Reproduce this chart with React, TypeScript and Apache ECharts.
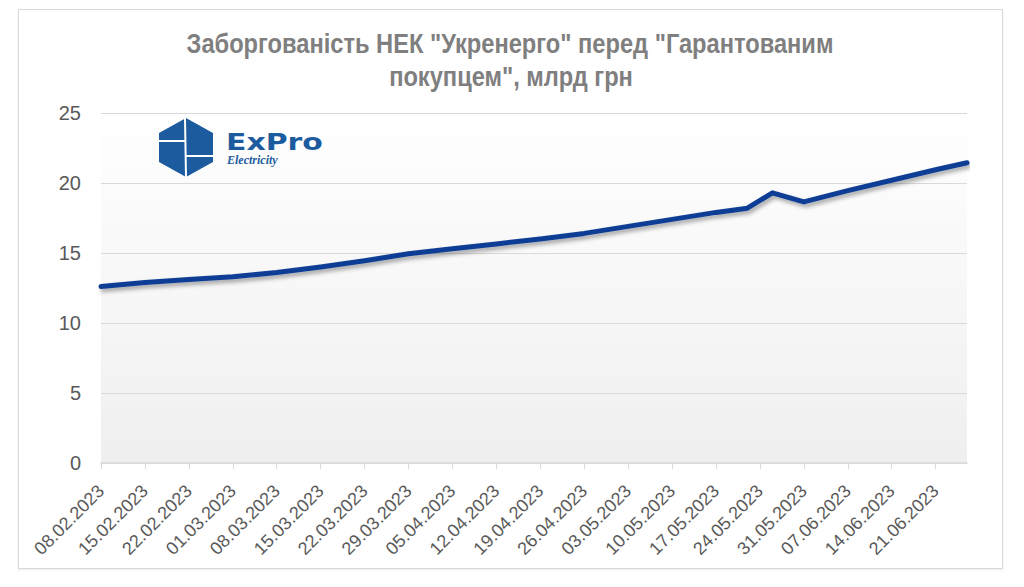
import React, { useEffect, useRef } from "react";
import * as echarts from "echarts";

const titleLines = [
  'Заборгованість НЕК "Укренерго" перед "Гарантованим',
  'покупцем", млрд грн',
];

// Daily category axis from 08.02.2023 to 26.06.2023
const firstDay = Date.UTC(2023, 1, 8);
const dayCount = 139;
const pad = (n: number) => (n < 10 ? "0" + n : "" + n);
const categories: string[] = Array.from({ length: dayCount }, (_, i) => {
  const d = new Date(firstDay + i * 86400000);
  return `${pad(d.getUTCDate())}.${pad(d.getUTCMonth() + 1)}.${d.getUTCFullYear()}`;
});
const labelEvery = 7;
const lastLabelIndex = 133; // 21.06.2023

const pointDates = [
  "08.02.2023", "15.02.2023", "22.02.2023", "01.03.2023", "08.03.2023",
  "15.03.2023", "22.03.2023", "29.03.2023", "05.04.2023", "12.04.2023",
  "19.04.2023", "26.04.2023", "03.05.2023", "10.05.2023", "17.05.2023",
  "22.05.2023", "26.05.2023", "31.05.2023", "07.06.2023", "14.06.2023",
  "21.06.2023", "26.06.2023",
];
const debtValues = [
  12.6, 12.9, 13.1, 13.3, 13.6,
  14.0, 14.45, 14.95, 15.3, 15.65,
  16.0, 16.4, 16.9, 17.4, 17.9,
  18.2, 19.3, 18.65, 19.45, 20.2,
  20.95, 21.45,
];

const yTicks = { min: 0, max: 25, interval: 5 };

const FONT = "'Liberation Sans Narrow', 'Arial Narrow', 'Liberation Sans', Arial, sans-serif";
const LOGO_BLUE = "#1c5c9e";

export default function App() {
  const ref = useRef<HTMLDivElement>(null);

  useEffect(() => {
    document.body.style.margin = "0";
    if (!ref.current) return;
    const chart = echarts.init(ref.current, undefined, { renderer: "svg" });
    const seriesData = pointDates.map((d, i) => [d, debtValues[i]]);
    const showAt = (idx: number) => idx % labelEvery === 0 && idx <= lastLabelIndex;

    chart.setOption({
      animation: false,
      grid: {
        left: 101,
        right: 57,
        top: 113,
        bottom: 124,
        show: true,
        borderWidth: 0,
        backgroundColor: new echarts.graphic.LinearGradient(0, 0, 0, 1, [
          { offset: 0, color: "#ffffff" },
          { offset: 1, color: "#efefef" },
        ]),
      },
      xAxis: {
        type: "category",
        data: categories,
        boundaryGap: false,
        axisLine: { show: true, lineStyle: { color: "#d9d9d9", width: 1.5 } },
        axisTick: { show: true, interval: showAt, length: 6, lineStyle: { color: "#d9d9d9" } },
        axisLabel: {
          interval: showAt,
          rotate: 45,
          fontSize: 18,
          color: "#595959",
          fontFamily: FONT,
          margin: 25,
        },
        splitLine: { show: false },
      },
      yAxis: {
        type: "value",
        min: yTicks.min,
        max: yTicks.max,
        interval: yTicks.interval,
        axisLine: { show: false },
        axisTick: { show: false },
        axisLabel: { fontSize: 20, color: "#595959", fontFamily: FONT, margin: 20 },
        splitLine: { lineStyle: { color: "#d9d9d9", width: 1 } },
      },
      series: [
        {
          type: "line",
          data: seriesData,
          showSymbol: false,
          symbol: "none",
          connectNulls: true,
          lineStyle: {
            color: "#0f3e94",
            width: 5,
            cap: "round",
            join: "round",
            shadowColor: "rgba(0,0,0,0.35)",
            shadowBlur: 4,
            shadowOffsetX: 2,
            shadowOffsetY: 3,
          },
          z: 3,
        },
      ],
      graphic: [
        {
          type: "text",
          x: 510,
          y: 43,
          scaleX: 0.845,
          style: {
            text: titleLines[0],
            fontSize: 28,
            fontWeight: "bold",
            fill: "#7f7f7f",
            fontFamily: FONT,
            textAlign: "center",
            textVerticalAlign: "middle",
          },
        },
        {
          type: "text",
          x: 511,
          y: 76,
          scaleX: 0.845,
          style: {
            text: titleLines[1],
            fontSize: 28,
            fontWeight: "bold",
            fill: "#7f7f7f",
            fontFamily: FONT,
            textAlign: "center",
            textVerticalAlign: "middle",
          },
        },
        {
          type: "group",
          x: 0,
          y: 0,
          z: 10,
          children: [
            {
              type: "polygon",
              shape: {
                points: [
                  [186, 118], [213, 133], [213, 162], [186, 177], [159, 162], [159, 133],
                ],
              },
              style: { fill: LOGO_BLUE },
            },
            { type: "line", shape: { x1: 185, y1: 118, x2: 186, y2: 177 }, style: { stroke: "#fff", lineWidth: 2 } },
            { type: "line", shape: { x1: 159, y1: 141, x2: 185, y2: 141 }, style: { stroke: "#fff", lineWidth: 2 } },
            { type: "line", shape: { x1: 186, y1: 156, x2: 213, y2: 156 }, style: { stroke: "#fff", lineWidth: 2 } },
            {
              type: "text",
              x: 226,
              y: 130,
              scaleX: 1.3,
              style: {
                text: "ExPro",
                fontSize: 23,
                fontWeight: "bold",
                fill: LOGO_BLUE,
                fontFamily: "'DejaVu Sans', sans-serif",
                textVerticalAlign: "top",
              },
            },
            {
              type: "text",
              x: 227,
              y: 154,
              style: {
                text: "Electricity",
                fontSize: 12,
                fontStyle: "italic",
                fontWeight: "bold",
                fill: LOGO_BLUE,
                fontFamily: "'Liberation Serif', serif",
                textVerticalAlign: "top",
              },
            },
          ],
        },
      ],
    });
    return () => chart.dispose();
  }, []);

  return (
    <div style={{ position: "fixed", left: 0, top: 0, width: 1024, height: 587, background: "#fff" }}>
      <div
        style={{
          position: "absolute",
          left: 18,
          top: 9,
          width: 985,
          height: 560,
          boxSizing: "border-box",
          border: "1.5px solid #d9d9d9",
          boxShadow: "0 1px 2px rgba(0,0,0,0.08)",
        }}
      />
      <div ref={ref} style={{ position: "absolute", left: 0, top: 0, width: 1024, height: 587 }} />
    </div>
  );
}
